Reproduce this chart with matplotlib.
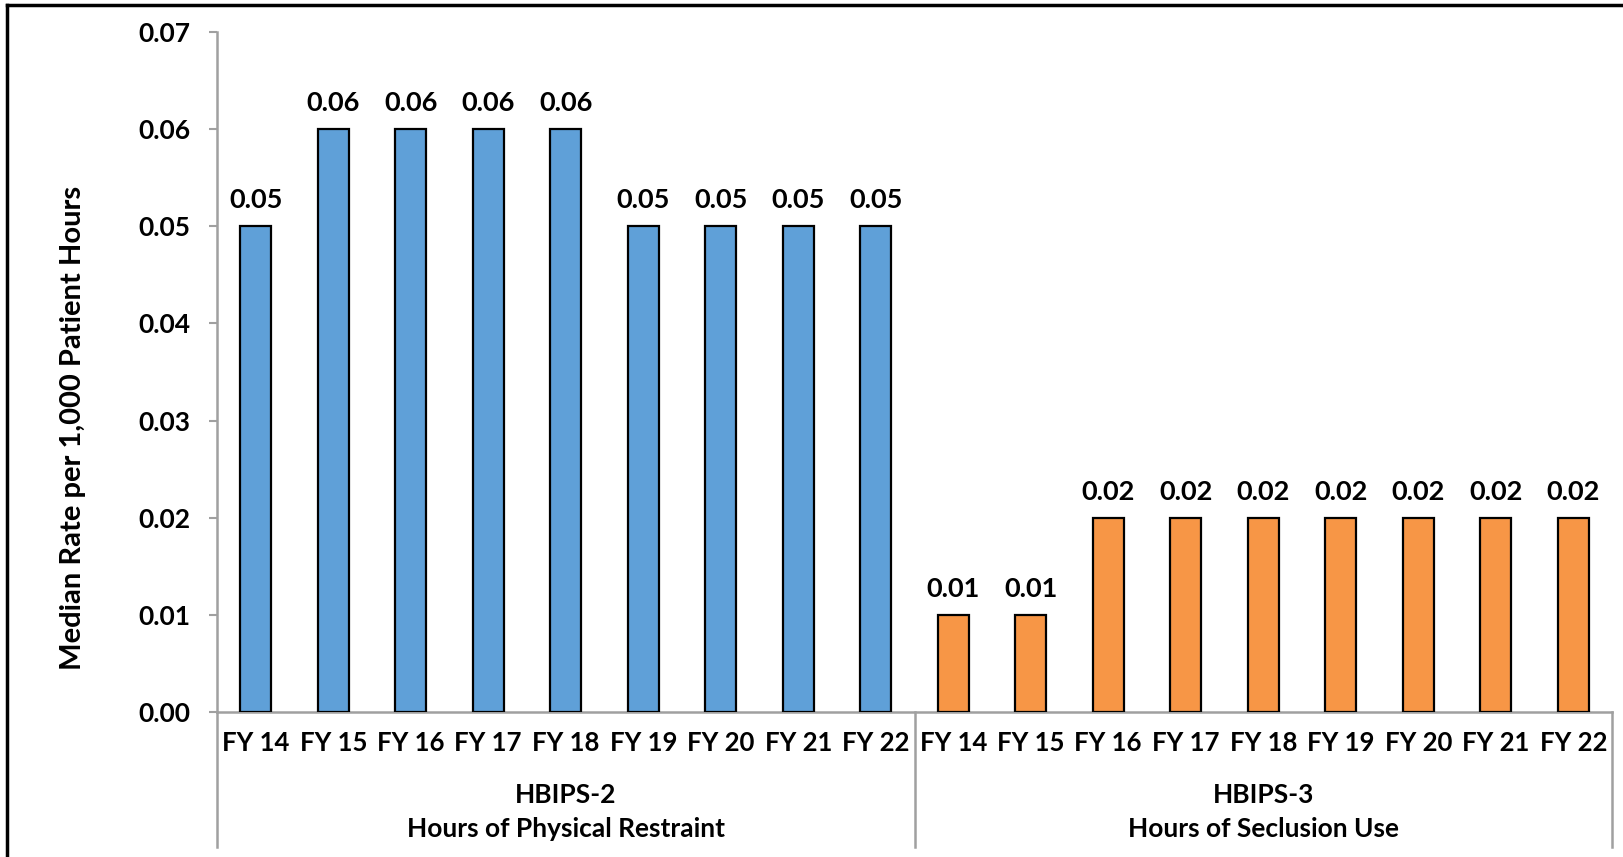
"""
HBIPS-2 / HBIPS-3 median rates, FY14-FY22.
"""
import matplotlib
matplotlib.use("Agg")
import matplotlib.pyplot as plt
from matplotlib.lines import Line2D

years = ["FY 14", "FY 15", "FY 16", "FY 17", "FY 18", "FY 19", "FY 20", "FY 21", "FY 22"]
hbips2 = [0.05, 0.06, 0.06, 0.06, 0.06, 0.05, 0.05, 0.05, 0.05]
hbips3 = [0.01, 0.01, 0.02, 0.02, 0.02, 0.02, 0.02, 0.02, 0.02]
groups = ["HBIPS-2\nHours of Physical Restraint", "HBIPS-3\nHours of Seclusion Use"]

W, H = 1623, 857
FONT = "Lato"
AXIS_C = "#A0A0A0"

fig = plt.figure(figsize=(W / 100, H / 100), dpi=100)
fig.patch.set_facecolor("white")

# axes box in pixel coords: left 217, right 1612, top 32, zero line 712
x0, x1, ytop, ybot = 217, 1612, 32, 712
ax = fig.add_axes([x0 / W, (H - ybot) / H, (x1 - x0) / W, (ybot - ytop) / H])

n = len(years)
xs2 = list(range(n))
xs3 = [n + i for i in range(n)]
ax.bar(xs2, hbips2, width=0.4, color="#5FA0D8", edgecolor="black", linewidth=1.6, zorder=3)
ax.bar(xs3, hbips3, width=0.4, color="#F79646", edgecolor="black", linewidth=1.6, zorder=3)

for xv, v in zip(xs2 + xs3, hbips2 + hbips3):
    ax.annotate(f"{v:.2f}", (xv, v), textcoords="offset points", xytext=(0, 10),
                ha="center", va="bottom", fontsize=19.5, fontweight="bold",
                family=FONT, color="black")

ax.set_xlim(-0.5, 2 * n - 0.5)
ax.set_ylim(0, 0.07)
ax.set_yticks([i / 100 for i in range(8)])
ax.set_yticklabels([f"{i / 100:.2f}" for i in range(8)])
for lab in ax.get_yticklabels():
    lab.set_fontweight("bold")
    lab.set_family(FONT)
    lab.set_fontsize(19)
ax.tick_params(axis="y", length=6, width=1.5, color=AXIS_C, pad=13)

ax.set_xticks(xs2 + xs3)
ax.set_xticklabels(years + years)
for lab in ax.get_xticklabels():
    lab.set_fontweight("bold")
    lab.set_family(FONT)
    lab.set_fontsize(18.5)
ax.tick_params(axis="x", length=0, pad=14)

for s in ["top", "right"]:
    ax.spines[s].set_visible(False)
for s in ["left", "bottom"]:
    ax.spines[s].set_color(AXIS_C)
    ax.spines[s].set_linewidth(1.8)

ax.set_ylabel("Median Rate per 1,000 Patient Hours", fontsize=21,
              fontweight="bold", family=FONT)
ax.yaxis.set_label_coords(-(x0 - 86) / (x1 - x0), (ybot - 428) / (ybot - ytop))

# group divider lines extending below the axis
ylow = -(847 - ybot) / (ybot - ytop)
for xd in [-0.5, n - 0.5, 2 * n - 0.5]:
    ax.add_line(Line2D([xd, xd], [ylow, 0], transform=ax.get_xaxis_transform(),
                       color=AXIS_C, lw=1.8, clip_on=False))

for gi, g in enumerate(groups):
    ax.text(gi * n + (n - 1) / 2, -(812 - ybot) / (ybot - ytop), g,
            transform=ax.get_xaxis_transform(), ha="center", va="center",
            fontsize=19, fontweight="bold", family=FONT, linespacing=1.5)

# outer frame (left and top edges only)
fig.add_artist(Line2D([7 / W, 7 / W], [0, 1 - 5 / H], color="black", lw=2.5))
fig.add_artist(Line2D([7 / W, 1], [1 - 5 / H, 1 - 5 / H], color="black", lw=2.5))

plt.savefig("out.png", dpi=100, facecolor=fig.get_facecolor())
plt.close()
